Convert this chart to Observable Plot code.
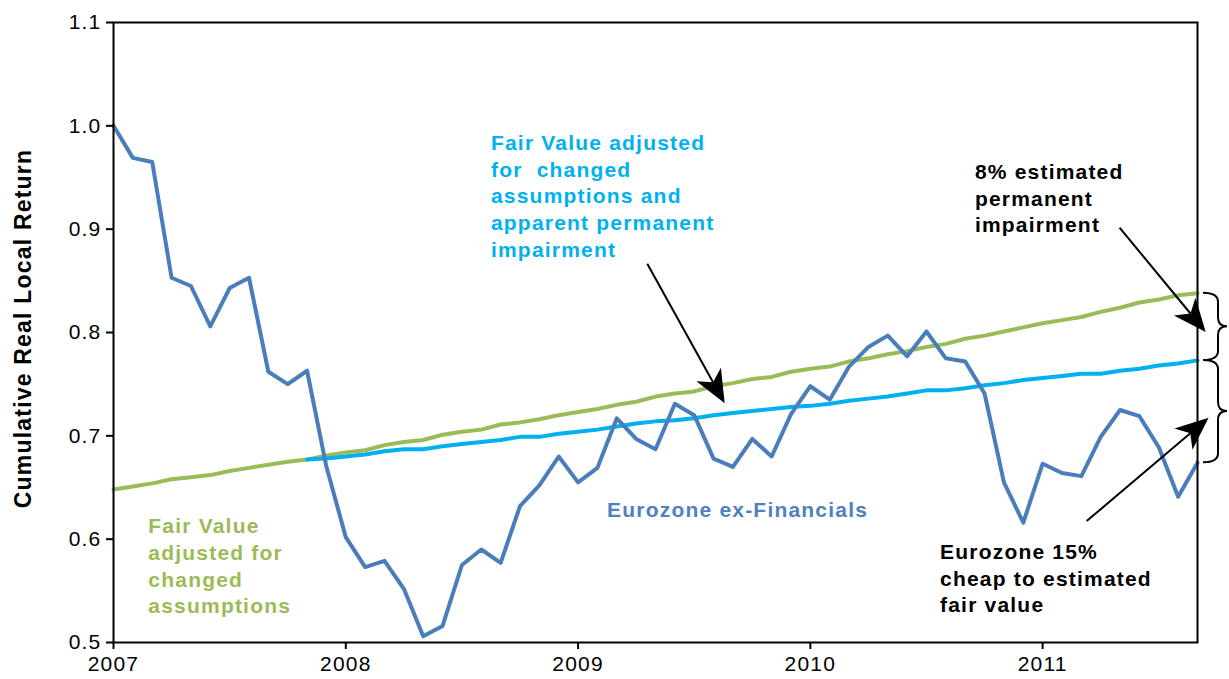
<!DOCTYPE html>
<html><head><meta charset="utf-8">
<script src="https://cdn.jsdelivr.net/npm/d3@7"></script>
<script src="https://cdn.jsdelivr.net/npm/@observablehq/plot@0.6"></script>
<style>
html,body{margin:0;padding:0;background:#fff;}
#chart svg text{letter-spacing:1.2px;}
</style></head><body><div id="chart"></div>
<script>
// Month index 0 = Jan 2007 ... 56 = Sep 2011
const yearLabels = ["2007", "2008", "2009", "2010", "2011"];
const yearTickMonths = [0, 12, 24, 36, 48];
const yTicks = [0.5, 0.6, 0.7, 0.8, 0.9, 1.0, 1.1];

// Eurozone ex-Financials, cumulative real local return (monthly)
const eurozone = [1.000, 0.969, 0.965, 0.853, 0.845, 0.806, 0.843, 0.853, 0.762, 0.750,
  0.763, 0.670, 0.602, 0.573, 0.579, 0.552, 0.506, 0.516, 0.575, 0.590,
  0.577, 0.632, 0.652, 0.680, 0.655, 0.669, 0.717, 0.697, 0.687, 0.731,
  0.720, 0.678, 0.670, 0.697, 0.680, 0.721, 0.748, 0.735, 0.767, 0.786,
  0.797, 0.777, 0.801, 0.775, 0.772, 0.741, 0.655, 0.616, 0.673, 0.664,
  0.661, 0.699, 0.725, 0.719, 0.689, 0.641, 0.674];

// Fair value adjusted for changed assumptions
const fairValue = [0.648, 0.651, 0.654, 0.658, 0.660, 0.662, 0.666, 0.669, 0.672, 0.675,
  0.677, 0.681, 0.684, 0.686, 0.691, 0.694, 0.696, 0.701, 0.704, 0.706,
  0.711, 0.713, 0.716, 0.720, 0.723, 0.726, 0.730, 0.733, 0.738, 0.741,
  0.743, 0.748, 0.751, 0.755, 0.757, 0.762, 0.765, 0.767, 0.772, 0.775,
  0.779, 0.782, 0.786, 0.789, 0.794, 0.797, 0.801, 0.805, 0.809, 0.812,
  0.815, 0.820, 0.824, 0.829, 0.832, 0.836, 0.838];

// Fair value adjusted for changed assumptions and apparent permanent impairment (from month 10)
const impairedStart = 10;
const fairValueImpaired = [0.677, 0.678, 0.680, 0.682, 0.685, 0.687, 0.687, 0.690, 0.692, 0.694,
  0.696, 0.699, 0.699, 0.702, 0.704, 0.706, 0.709, 0.712, 0.714, 0.715,
  0.717, 0.720, 0.722, 0.724, 0.726, 0.728, 0.729, 0.731, 0.734, 0.736,
  0.738, 0.741, 0.744, 0.744, 0.746, 0.749, 0.751, 0.754, 0.756, 0.758,
  0.760, 0.760, 0.763, 0.765, 0.768, 0.770, 0.773];

const yTitle = "Cumulative Real Local Return";
const textImpaired = "Fair Value adjusted\nfor  changed\nassumptions and\napparent permanent\nimpairment";
const textFair = "Fair Value\nadjusted for\nchanged\nassumptions";
const textEuro = "Eurozone ex-Financials";
const textPermanent = "8% estimated\npermanent\nimpairment";
const textCheap = "Eurozone 15%\ncheap to estimated\nfair value";

// annotation arrows in data space: [fromMonth, fromValue, toMonth, toValue]
const arrowFrom = [[27.6, 0.866], [52.0, 0.901], [50.3, 0.617]];
const arrowTo = [[31.6, 0.731], [56.45, 0.800], [56.6, 0.717]];

const blue = "#4A7EBB", green = "#9BBB59", cyan = "#00B0F0";

function arrowsMark(index, scales) {
  const sx = scales.x, sy = scales.y;
  const g = d3.create("svg:g");
  arrowFrom.forEach((f, k) => {
    const t = arrowTo[k];
    const x1 = sx(f[0]), y1 = sy(f[1]), x2 = sx(t[0]), y2 = sy(t[1]);
    const dx = x2 - x1, dy = y2 - y1, len = Math.hypot(dx, dy);
    const ux = dx / len, uy = dy / len;
    const L = 33, W = 14, N = 24;
    const bx = x2 - ux * L, by = y2 - uy * L;
    const nx = x2 - ux * N, ny = y2 - uy * N;
    g.append("line").attr("x1", x1).attr("y1", y1).attr("x2", nx).attr("y2", ny)
      .attr("stroke", "black").attr("stroke-width", 2);
    g.append("path")
      .attr("d", `M${x2},${y2}L${bx - uy * W},${by + ux * W}L${nx},${ny}L${bx + uy * W},${by - ux * W}Z`)
      .attr("fill", "black");
  });
  return g.node();
}

function bracesMark(index, scales, values, dimensions) {
  const sy = scales.y;
  const xr = dimensions.width - dimensions.marginRight;
  const ends = [fairValue[fairValue.length - 1], fairValueImpaired[fairValueImpaired.length - 1], eurozone[eurozone.length - 1]];
  const g = d3.create("svg:g");
  const x0 = xr + 6, x1 = xr + 21, x2 = xr + 30, r = 9;
  for (let k = 0; k < 2; k++) {
    const y0 = sy(ends[k]), y1 = sy(ends[k + 1]), ym = (y0 + y1) / 2;
    const d = `M${x0},${y0}Q${x1},${y0} ${x1},${y0 + r}L${x1},${ym - r}Q${x1},${ym} ${x2},${ym}` +
      `Q${x1},${ym} ${x1},${ym + r}L${x1},${y1 - r}Q${x1},${y1} ${x0},${y1}`;
    g.append("path").attr("d", d).attr("fill", "none").attr("stroke", "black").attr("stroke-width", 2);
  }
  return g.node();
}

const annoFont = {fontWeight: "bold", fontSize: 21, textAnchor: "start", lineAnchor: "top", lineHeight: 1.27};

const chart = Plot.plot({
  width: 1229,
  height: 679,
  marginLeft: 113,
  marginRight: 32,
  marginTop: 22,
  marginBottom: 37,
  style: {fontFamily: "'Liberation Sans', Arial, sans-serif", fontSize: "21px", color: "black", background: "white"},
  x: {domain: [0, 56]},
  y: {domain: [0.5, 1.1]},
  marks: [
    Plot.line(fairValue, {x: (d, i) => i, y: d => d, stroke: green, strokeWidth: 4, strokeLinejoin: "round"}),
    Plot.line(fairValueImpaired, {x: (d, i) => i + impairedStart, y: d => d, stroke: cyan, strokeWidth: 4, strokeLinejoin: "round"}),
    Plot.line(eurozone, {x: (d, i) => i, y: d => d, stroke: blue, strokeWidth: 4, strokeLinejoin: "round"}),
    Plot.frame({stroke: "black", strokeWidth: 2}),
    Plot.axisY({ticks: yTicks, tickFormat: d => d.toFixed(1), tickSize: 7, tickPadding: 5, strokeWidth: 2, label: null, fontSize: 21}),
    Plot.axisX({ticks: yearTickMonths, tickFormat: m => yearLabels[yearTickMonths.indexOf(m)], tickSize: 7, tickPadding: 7, strokeWidth: 2, label: null, fontSize: 21}),
    Plot.text([yTitle], {frameAnchor: "left", rotate: -90, dx: -90, dy: -4, textAnchor: "middle", fontWeight: "bold", fontSize: 23}),
    Plot.text([textImpaired], {x: 19.5, y: 0.995, fill: cyan, ...annoFont}),
    Plot.text([textFair], {x: 1.8, y: 0.624, fill: green, ...annoFont}),
    Plot.text([textEuro], {x: 25.5, y: 0.640, fill: "#4F81BD", ...annoFont}),
    Plot.text([textPermanent], {x: 44.5, y: 0.967, fill: "black", ...annoFont}),
    Plot.text([textCheap], {x: 42.7, y: 0.599, fill: "black", ...annoFont}),
    arrowsMark,
    bracesMark
  ]
});
document.getElementById("chart").append(chart);
</script></body></html>
